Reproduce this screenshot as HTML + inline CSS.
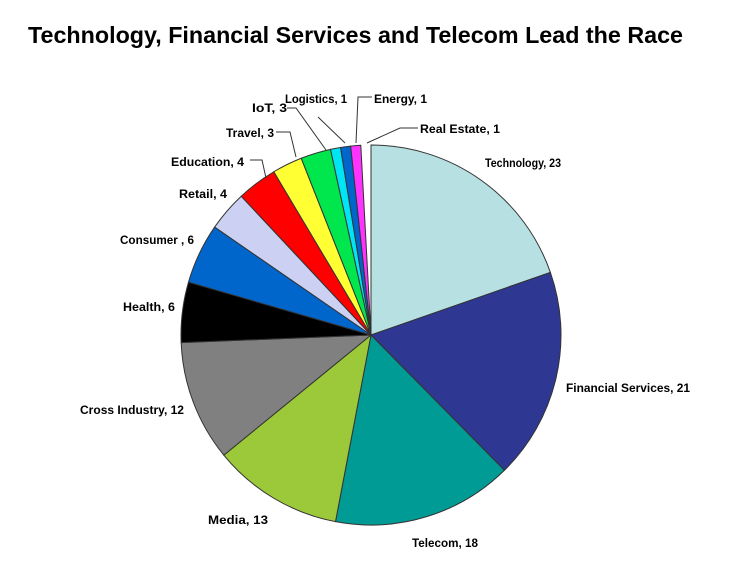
<!DOCTYPE html>
<html><head><meta charset="utf-8"><style>
html,body{margin:0;padding:0;background:#fff;}
svg text{font-family:"Liberation Sans",sans-serif;font-weight:bold;fill:#000;}
</style></head><body>
<svg id="s" width="754" height="566" viewBox="0 0 754 566" xmlns="http://www.w3.org/2000/svg">
<text x="28" y="43" font-size="23" textLength="655" lengthAdjust="spacingAndGlyphs">Technology, Financial Services and Telecom Lead the Race</text>
<g id="pie"></g>
<g fill="none" stroke="#333" stroke-width="1">
<polyline points="250,160 262,160 266,178"/>
<polyline points="276,132 290,132 296,157"/>
<polyline points="287,108 296,108 326,150"/>
<polyline points="318,117 345,143"/>
<polyline points="372,97 358,97 356,143"/>
<polyline points="418,128 400,128 367,143"/>
</g>
<g font-size="12">
<text x="485" y="167" textLength="76" lengthAdjust="spacingAndGlyphs">Technology, 23</text>
<text x="566" y="392" textLength="124" lengthAdjust="spacingAndGlyphs">Financial Services, 21</text>
<text x="412" y="547" textLength="66" lengthAdjust="spacingAndGlyphs">Telecom, 18</text>
<text x="208" y="524" textLength="60" lengthAdjust="spacingAndGlyphs">Media, 13</text>
<text x="80" y="414" textLength="104" lengthAdjust="spacingAndGlyphs">Cross Industry, 12</text>
<text x="123" y="311" textLength="52" lengthAdjust="spacingAndGlyphs">Health, 6</text>
<text x="120" y="244" textLength="74" lengthAdjust="spacingAndGlyphs">Consumer , 6</text>
<text x="179" y="198" textLength="48" lengthAdjust="spacingAndGlyphs">Retail, 4</text>
<text x="171" y="166" textLength="73" lengthAdjust="spacingAndGlyphs">Education, 4</text>
<text x="226" y="137" textLength="48" lengthAdjust="spacingAndGlyphs">Travel, 3</text>
<text x="252" y="112" textLength="35" lengthAdjust="spacingAndGlyphs">IoT, 3</text>
<text x="285" y="103" textLength="62" lengthAdjust="spacingAndGlyphs">Logistics, 1</text>
<text x="374" y="103" textLength="53" lengthAdjust="spacingAndGlyphs">Energy, 1</text>
<text x="420" y="133" textLength="80" lengthAdjust="spacingAndGlyphs">Real Estate, 1</text>
</g>
</svg>
<script>
var d=[[23,"#b7e0e3"],[21,"#2e3892"],[18,"#009b94"],[13,"#9bc93a"],[12,"#808080"],[6,"#000000"],[6,"#0066cc"],[4,"#ccd0f2"],[4,"#ff0000"],[3,"#ffff33"],[3,"#00e64d"],[1,"#00e5f5"],[1,"#0066cc"],[1,"#ff33ff"]];
var cx=371,cy=335,r=190,t=117,a=0,g=document.getElementById("pie"),h="";
d.forEach(function(e){var a0=a;a+=e[0]/t*2*Math.PI;
var x0=cx+r*Math.sin(a0),y0=cy-r*Math.cos(a0),x1=cx+r*Math.sin(a),y1=cy-r*Math.cos(a);
var lg=(a-a0)>Math.PI?1:0;
h+='<path d="M'+cx+','+cy+' L'+x0+','+y0+' A'+r+','+r+' 0 '+lg+' 1 '+x1+','+y1+' Z" fill="'+e[1]+'" stroke="#333" stroke-width="1"/>';});
g.innerHTML=h;
</script>
</body></html>
